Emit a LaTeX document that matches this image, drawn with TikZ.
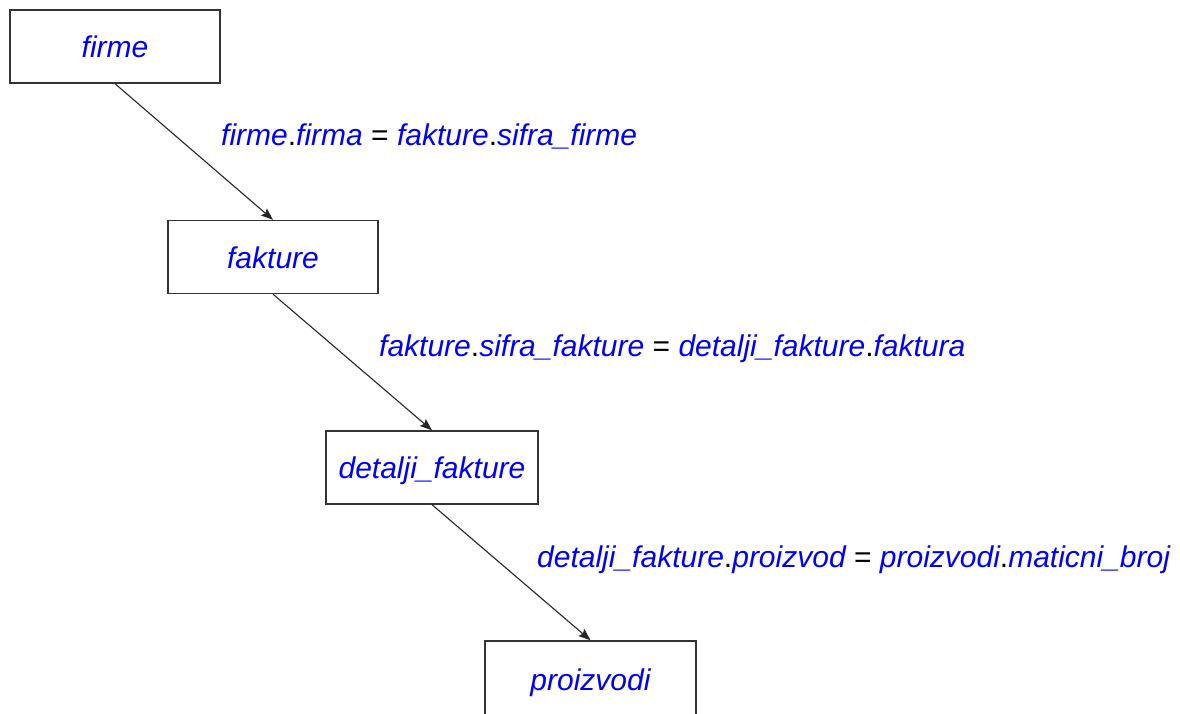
\documentclass[tikz,border=0pt]{standalone}
\usepackage{fontspec}
\setmainfont{Liberation Sans}
\usetikzlibrary{arrows.meta}

\newcommand{\fld}[1]{{\color{blue}\itshape #1}}

\tikzset{
  tbl/.style={draw=black!80, line width=1.4pt, fill=white, minimum width=210pt,
    minimum height=73pt, inner sep=0pt, text height=22.5pt, text depth=0pt,
    font=\fontsize{30}{33}\selectfont},
  joinarrow/.style={black!85, line width=1.1pt, -{Stealth[length=12pt,width=9pt,inset=2pt]}},
  cond/.style={anchor=base west, inner sep=0pt, font=\fontsize{30}{33}\selectfont}
}

\begin{document}
\begin{tikzpicture}[x=1pt, y=-1pt]
\useasboundingbox (0,0) rectangle (1180,713);

% tables
\node[tbl] (firme)     at (115,46.5)  {\fld{firme}};
\node[tbl] (fakture)   at (273,257)   {\fld{fakture}};
\node[tbl, minimum width=212pt] (detalji) at (432,467.5) {\fld{detalji\_fakture}};
\node[tbl, minimum width=211pt, minimum height=76pt] (proizvodi) at (590.5,679) {\fld{proizvodi}};

% joins
\draw[joinarrow] (firme.south)   -- (fakture.north);
\draw[joinarrow] (fakture.south) -- (detalji.north);
\draw[joinarrow] (detalji.south) -- (proizvodi.north);

% join conditions
\node[cond] (c1) at (221,145) {\fld{firme}.\fld{firma} = \fld{fakture}.\fld{sifra\_firme}};
\node[cond] (c2) at (379,356) {\fld{fakture}.\fld{sifra\_fakture} = \fld{detalji\_fakture}.\fld{faktura}};
\node[cond] (c3) at (537,567) {\fld{detalji\_fakture}.\fld{proizvod} = \fld{proizvodi}.\fld{maticni\_broj}};
\end{tikzpicture}
\end{document}
